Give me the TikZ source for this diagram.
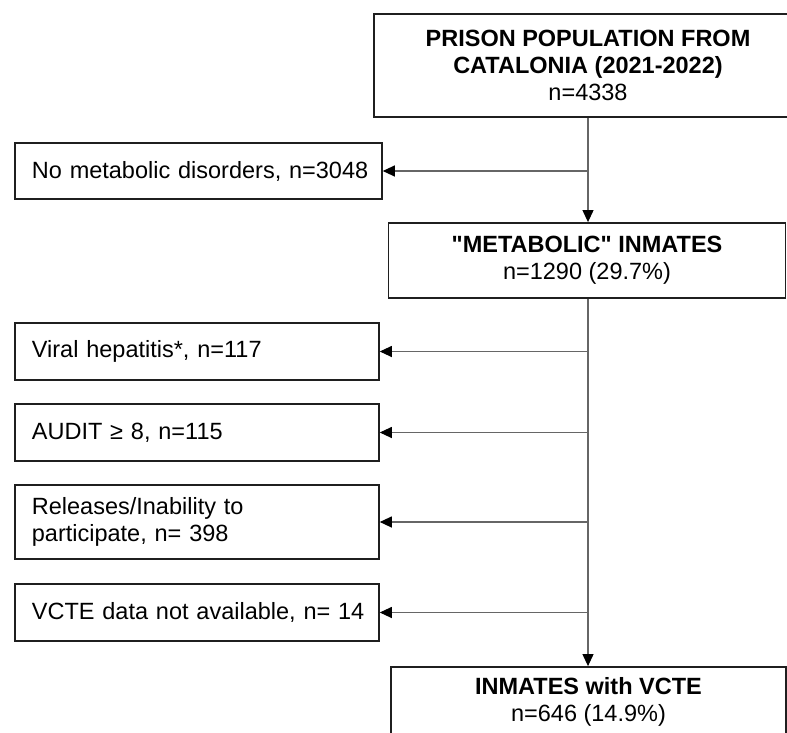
\documentclass[tikz,border=0pt]{standalone}
\usepackage{fontspec}
\setmainfont{Liberation Sans}[Ligatures=TeXOff]
\usetikzlibrary{arrows.meta}
\begin{document}
\begin{tikzpicture}[x=1pt,y=-1pt,
  box/.style={draw=black!88,line width=1.8pt,fill=white,inner sep=0pt,
    font=\fontsize{23.5}{27}\selectfont},
  mainbox/.style={box,align=center},
  sidebox/.style={box,align=left,anchor=west,inner xsep=17pt,text width=#1},
  arr/.style={draw=black!60,line width=1.1pt,
    -{Triangle[length=12pt,width=11pt,color=black]}}]
\useasboundingbox (0,0) rectangle (787,733);
\clip (0,0) rectangle (787,733);
\node[mainbox,minimum width=428pt,minimum height=103pt] (top) at (588,65.5)
  {\textbf{PRISON POPULATION FROM}\\\textbf{CATALONIA (2021-2022)}\\n=4338};
\node[mainbox,minimum width=397pt,minimum height=75pt] (metab) at (587,260.5)
  {\textbf{"METABOLIC" INMATES}\\n=1290 (29.7\%)};
\node[mainbox,minimum width=395pt,minimum height=70pt] (final) at (588.5,702)
  {\textbf{INMATES with VCTE}\\n=646 (14.9\%)};
\node[sidebox=333pt,minimum height=56pt] (nomet) at (14,171) {\mbox{No metabolic disorders, n=3048}};
\node[sidebox=330pt,minimum height=57pt] (viral) at (14,351.5) {\mbox{Viral hepatitis*, n=117}};
\node[sidebox=330pt,minimum height=57pt] (audit) at (14,432.5) {\mbox{AUDIT ≥ 8, n=115}};
\node[sidebox=330pt,minimum height=74pt] (rel) at (14,522) {Releases/Inability to\\participate, n= 398};
\node[sidebox=330pt,minimum height=57pt] (vcte) at (14,612.5) {\mbox{VCTE data not available, n= 14}};
\draw[arr] (top.south) -- (top.south |- metab.north);
\draw[arr] (top.south |- nomet.east) -- (nomet.east);
\draw[arr] (top.south |- metab.south) -- (top.south |- final.north);
\foreach \n in {viral,audit,rel,vcte}
  \draw[arr] (top.south |- \n.east) -- (\n.east);
\end{tikzpicture}
\end{document}
